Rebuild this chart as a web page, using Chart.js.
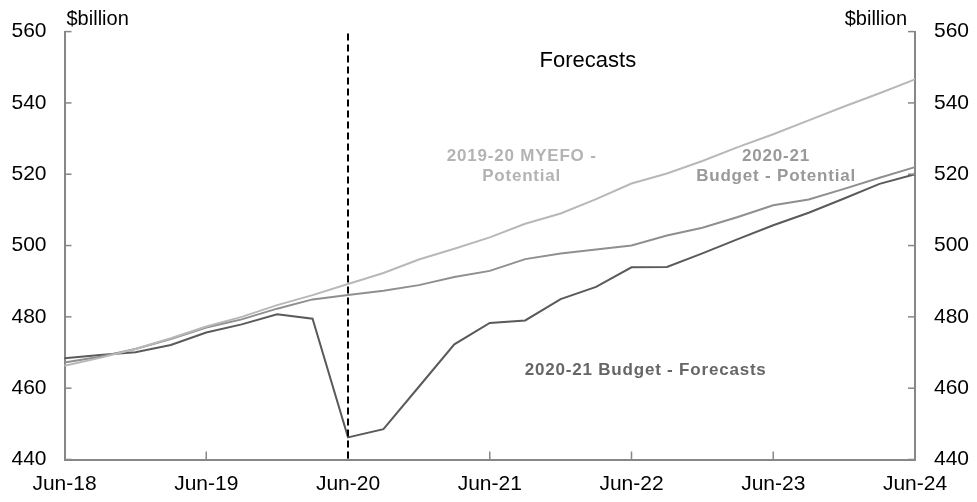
<!DOCTYPE html>
<html>
<head>
<meta charset="utf-8">
<script src="https://cdn.jsdelivr.net/npm/chart.js@4/dist/chart.umd.min.js"></script>
<style>
html,body{margin:0;padding:0;background:#fff;}
#wrap{width:977px;height:502px;position:relative;}
</style>
</head>
<body>
<div id="wrap"><canvas id="c" width="977" height="502"></canvas></div>
<script>
// Quarterly categories
const quarters = ['Jun-18','Sep-18','Dec-18','Mar-19','Jun-19','Sep-19','Dec-19','Mar-20','Jun-20','Sep-20','Dec-20','Mar-21','Jun-21','Sep-21','Dec-21','Mar-22','Jun-22','Sep-22','Dec-22','Mar-23','Jun-23','Sep-23','Dec-23','Mar-24','Jun-24'];
// $billion
const myefoPotential = [466.3,468.5,471.0,474.0,477.3,480.0,483.3,486.1,489.2,492.3,496.1,499.1,502.3,506.1,509.0,513.0,517.4,520.2,523.7,527.6,531.2,535.1,539.0,542.7,546.6];
const budgetPotential = [467.2,468.8,471.0,473.8,477.0,479.3,482.3,484.9,486.1,487.3,488.9,491.2,492.9,496.2,497.8,498.9,500.0,502.8,505.0,508.0,511.3,512.9,515.9,519.0,522.0];
const budgetForecasts = [468.4,469.3,470.1,472.1,475.6,477.9,480.7,479.5,446.2,448.5,460.4,472.3,478.3,479.0,485.0,488.4,493.9,494.0,497.8,501.8,505.7,509.2,513.2,517.3,520.0];
const yTicks = [440,460,480,500,520,540,560];
const forecastStart = 'Jun-20';

const AXIS = '#878787';
const FONT = '"Liberation Sans", Arial, sans-serif';

const overlay = {
  id: 'overlay',
  afterDraw(chart) {
    const {ctx, chartArea: a, scales} = chart;
    const x = scales.x, y = scales.y;
    ctx.save();
    // inward ticks
    ctx.strokeStyle = AXIS; ctx.lineWidth = 1.5;
    yTicks.forEach(v => {
      const py = y.getPixelForValue(v);
      ctx.beginPath(); ctx.moveTo(a.left, py); ctx.lineTo(a.left + 7, py); ctx.stroke();
      ctx.beginPath(); ctx.moveTo(a.right, py); ctx.lineTo(a.right - 7, py); ctx.stroke();
    });
    quarters.forEach((q, i) => {
      if (i % 4 === 0 && i > 0 && i < quarters.length - 1) {
        const px = x.getPixelForValue(i);
        ctx.beginPath(); ctx.moveTo(px, a.bottom); ctx.lineTo(px, a.bottom - 8); ctx.stroke();
      }
    });
    // dashed forecast divider
    const fx = x.getPixelForValue(quarters.indexOf(forecastStart));
    ctx.strokeStyle = '#000'; ctx.lineWidth = 2; ctx.setLineDash([7, 4]);
    ctx.beginPath(); ctx.moveTo(fx, a.top + 2); ctx.lineTo(fx, a.bottom); ctx.stroke();
    ctx.setLineDash([]);
    // unit labels
    ctx.fillStyle = '#000';
    ctx.font = '20px ' + FONT;
    ctx.textBaseline = 'middle';
    ctx.textAlign = 'left';
    ctx.fillText('$billion', a.left + 2, a.top - 12);
    ctx.textAlign = 'right';
    ctx.fillText('$billion', a.right - 8, a.top - 12);
    // Forecasts
    ctx.textAlign = 'center';
    ctx.font = '22px ' + FONT;
    ctx.fillText('Forecasts', x.getPixelForValue(14.77), y.getPixelForValue(551.9));
    // series labels
    ctx.font = 'bold 17px ' + FONT;
    if ('letterSpacing' in ctx) ctx.letterSpacing = '0.8px';
    ctx.fillStyle = '#b3b3b3';
    ctx.fillText('2019-20 MYEFO -', x.getPixelForValue(12.9), y.getPixelForValue(525.0));
    ctx.fillText('Potential', x.getPixelForValue(12.9), y.getPixelForValue(519.4));
    ctx.fillStyle = '#999999';
    ctx.fillText('2020-21', x.getPixelForValue(20.08), y.getPixelForValue(525.0));
    ctx.fillText('Budget - Potential', x.getPixelForValue(20.08), y.getPixelForValue(519.4));
    ctx.fillStyle = '#666666';
    ctx.fillText('2020-21 Budget - Forecasts', x.getPixelForValue(16.4), y.getPixelForValue(464.9));
    ctx.restore();
  }
};

new Chart(document.getElementById('c'), {
  type: 'line',
  data: {
    labels: quarters,
    datasets: [
      {label: '2019-20 MYEFO - Potential', data: myefoPotential, borderColor: '#b8b8b8', borderWidth: 2, pointRadius: 0, tension: 0, yAxisID: 'y'},
      {label: '2020-21 Budget - Potential', data: budgetPotential, borderColor: '#8f8f8f', borderWidth: 2, pointRadius: 0, tension: 0, yAxisID: 'y'},
      {label: '2020-21 Budget - Forecasts', data: budgetForecasts, borderColor: '#5a5a5a', borderWidth: 2, pointRadius: 0, tension: 0, yAxisID: 'y'}
    ]
  },
  options: {
    responsive: false,
    animation: false,
    devicePixelRatio: 1,
    layout: {padding: {top: 31, left: 0, right: 0, bottom: 0}},
    plugins: {legend: {display: false}, tooltip: {enabled: false}},
    scales: {
      x: {
        type: 'category',
        offset: false,
        grid: {display: false, drawTicks: false},
        border: {display: true, color: AXIS, width: 2},
        ticks: {
          autoSkip: false, maxRotation: 0, padding: 12,
          color: '#000', font: {family: FONT, size: 21},
          callback: function(v, i) { return i % 4 === 0 ? quarters[i] : ''; }
        },
        afterFit(s) { s.height = 42.5; }
      },
      y: {
        position: 'left', min: 440, max: 560,
        grid: {display: false, drawTicks: false},
        border: {display: true, color: AXIS, width: 2},
        ticks: {stepSize: 20, padding: 18, color: '#000', font: {family: FONT, size: 21}},
        afterFit(s) { s.width = 64.5; }
      },
      y2: {
        position: 'right', min: 440, max: 560,
        grid: {display: false, drawTicks: false},
        border: {display: true, color: AXIS, width: 2},
        ticks: {stepSize: 20, padding: 19, color: '#000', font: {family: FONT, size: 21}},
        afterFit(s) { s.width = 62; }
      }
    }
  },
  plugins: [overlay]
});
</script>
</body>
</html>
